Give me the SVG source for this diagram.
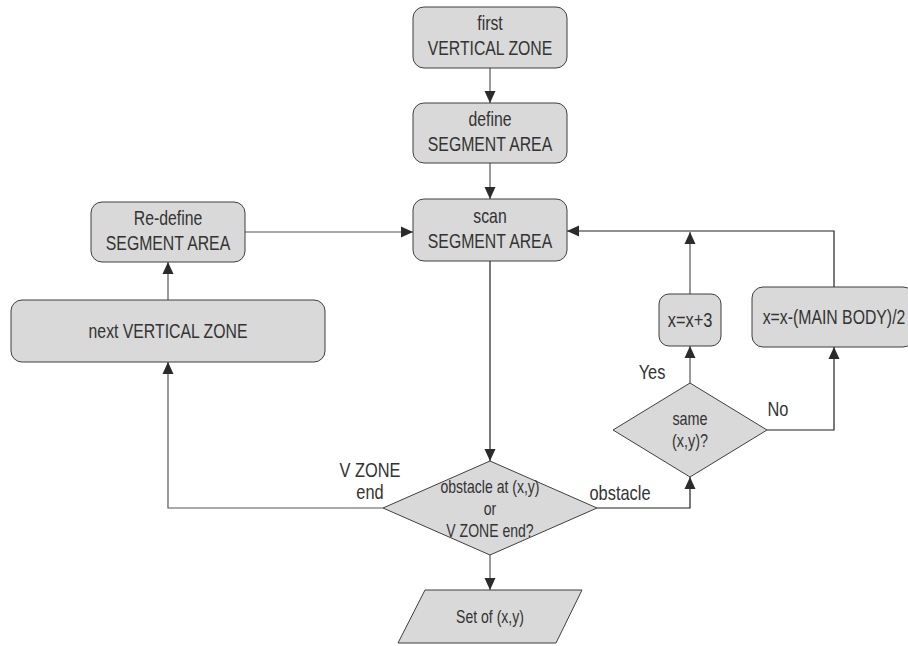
<svg xmlns="http://www.w3.org/2000/svg" width="908" height="646" viewBox="0 0 908 646">
<style>
.box{fill:#d9d9d9;stroke:#3f3f3f;stroke-width:1}
.t{font-family:"Liberation Sans",Arial,sans-serif;font-size:20px;fill:#333;text-anchor:middle}
.d{font-family:"Liberation Sans",Arial,sans-serif;font-size:18px;fill:#333;text-anchor:middle}
.c{fill:none;stroke:#555;stroke-width:1.2}
.k{fill:none;stroke:#222;stroke-width:1.2}
</style>
<defs>
<marker id="ah" markerUnits="userSpaceOnUse" markerWidth="12" markerHeight="12" refX="12" refY="6" orient="auto">
<path d="M0,0.5 L12,6 L0,11.5 z" fill="#2b2b2b"/>
</marker>
</defs>
<rect width="908" height="646" fill="#fff"/>
<g id="connectors">
<path class="c" d="M490,68 V103" marker-end="url(#ah)"/>
<path class="c" d="M490,163 V199" marker-end="url(#ah)"/>
<path class="k" d="M490,261 V461" marker-end="url(#ah)"/>
<path class="c" d="M490,555 V590" marker-end="url(#ah)"/>
<path class="c" d="M383,508 H168 V362" marker-end="url(#ah)"/>
<path class="c" d="M168,300 V262" marker-end="url(#ah)"/>
<path class="c" d="M245,232 H413" marker-end="url(#ah)"/>
<path class="k" d="M597,508 H690 V477" marker-end="url(#ah)"/>
<path class="c" d="M690,383 V346" marker-end="url(#ah)"/>
<path class="c" d="M690,294 V232" marker-end="url(#ah)"/>
<path class="k" d="M834,287 V231 H567" marker-end="url(#ah)"/>
<path class="k" d="M767,430 H834 V347" marker-end="url(#ah)"/>
<text class="t" transform="translate(370 0) scale(0.82 1)" y="477">V ZONE</text>
<text class="t" transform="translate(370 0) scale(0.82 1)" y="499">end</text>
<text class="t" transform="translate(620 0) scale(0.82 1)" y="500">obstacle</text>
<text class="t" transform="translate(652 0) scale(0.82 1)" y="379">Yes</text>
<text class="t" transform="translate(778 0) scale(0.82 1)" y="416">No</text>
</g>
<g id="first-zone">
<rect class="box" x="413" y="7" width="154" height="61" rx="11"/>
<text class="t" transform="translate(490 0) scale(0.79 1)" y="30">first</text>
<text class="t" transform="translate(490 0) scale(0.79 1)" y="55">VERTICAL ZONE</text>
</g>
<g id="define-segment">
<rect class="box" x="413" y="103" width="154" height="60" rx="11"/>
<text class="t" transform="translate(490 0) scale(0.79 1)" y="126">define</text>
<text class="t" transform="translate(490 0) scale(0.79 1)" y="151">SEGMENT AREA</text>
</g>
<g id="scan-segment">
<rect class="box" x="413" y="199" width="154" height="62" rx="11"/>
<text class="t" transform="translate(490 0) scale(0.79 1)" y="223">scan</text>
<text class="t" transform="translate(490 0) scale(0.79 1)" y="248">SEGMENT AREA</text>
</g>
<g id="redefine-segment">
<rect class="box" x="91" y="202" width="154" height="60" rx="11"/>
<text class="t" transform="translate(168 0) scale(0.79 1)" y="225">Re-define</text>
<text class="t" transform="translate(168 0) scale(0.79 1)" y="250">SEGMENT AREA</text>
</g>
<g id="next-zone">
<rect class="box" x="11" y="300" width="314" height="62" rx="11"/>
<text class="t" transform="translate(168 0) scale(0.79 1)" y="338">next VERTICAL ZONE</text>
</g>
<g id="obstacle-check">
<polygon class="box" points="490,461 597,508 490,555 383,508"/>
<text class="d" transform="translate(490 0) scale(0.78 1)" y="493">obstacle at (x,y)</text>
<text class="d" transform="translate(490 0) scale(0.78 1)" y="515">or</text>
<text class="d" transform="translate(490 0) scale(0.78 1)" y="537">V ZONE end?</text>
</g>
<g id="set-xy">
<polygon class="box" points="425,590 582,590 556,643 398,643"/>
<text class="d" transform="translate(490 0) scale(0.78 1)" y="623">Set of (x,y)</text>
</g>
<g id="same-check">
<polygon class="box" points="690,383 767,430 690,477 613,430"/>
<text class="d" transform="translate(690 0) scale(0.8 1)" y="425">same</text>
<text class="d" transform="translate(690 0) scale(0.8 1)" y="447">(x,y)?</text>
</g>
<g id="x-plus">
<rect class="box" x="659" y="294" width="62" height="52" rx="10"/>
<text class="t" transform="translate(690 0) scale(0.82 1)" y="327">x=x+3</text>
</g>
<g id="x-minus">
<rect class="box" x="752" y="287" width="162" height="60" rx="11"/>
<text class="t" transform="translate(834 0) scale(0.79 1)" y="324">x=x-(MAIN BODY)/2</text>
</g>
</svg>
